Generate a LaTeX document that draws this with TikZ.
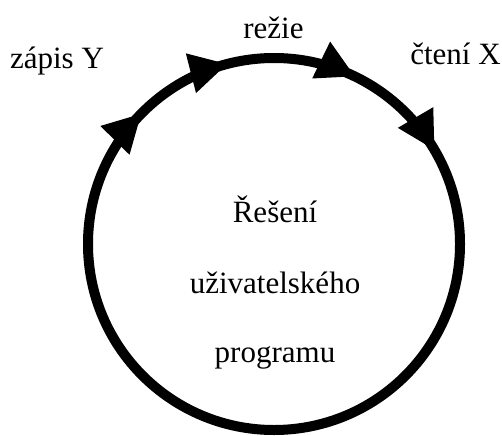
\documentclass[tikz,border=0pt]{standalone}
\usepackage{fontspec}
\setmainfont{Liberation Serif}
\usetikzlibrary{arrows.meta,decorations.markings}

\begin{document}
\begin{tikzpicture}[x=0.5pt,y=0.5pt,
  label/.style={font=\fontsize{15.5}{18}\selectfont,anchor=base,inner sep=0pt},
  cycle/.style={line width=5pt,postaction={decorate},
    decoration={markings,
      mark=at position 0.084 with {\arrowreversed{Triangle[length=19pt,width=19pt]}},
      mark=at position 0.178 with {\arrowreversed{Triangle[length=19pt,width=19pt]}},
      mark=at position 0.290 with {\arrowreversed{Triangle[length=19pt,width=19pt]}},
      mark=at position 0.376 with {\arrowreversed{Triangle[length=19pt,width=19pt]}}}}]
  \useasboundingbox (0,0) rectangle (502,435);

  % Cycle
  \coordinate (c) at (274,191);
  \draw[cycle] (c) circle[radius=93pt];

  % Steps round the cycle
  \node[label] (zapis) at (57,367) {zápis Y};
  \node[label] (rezie) at (273.5,397) {režie};
  \node[label] (cteni) at (455.5,371) {čtení X};

  % Task inside
  \node[label] (task1) at (275,213) {Řešení};
  \node[label] (task2) at (275,142) {uživatelského};
  \node[label] (task3) at (275,73) {programu};
\end{tikzpicture}
\end{document}
